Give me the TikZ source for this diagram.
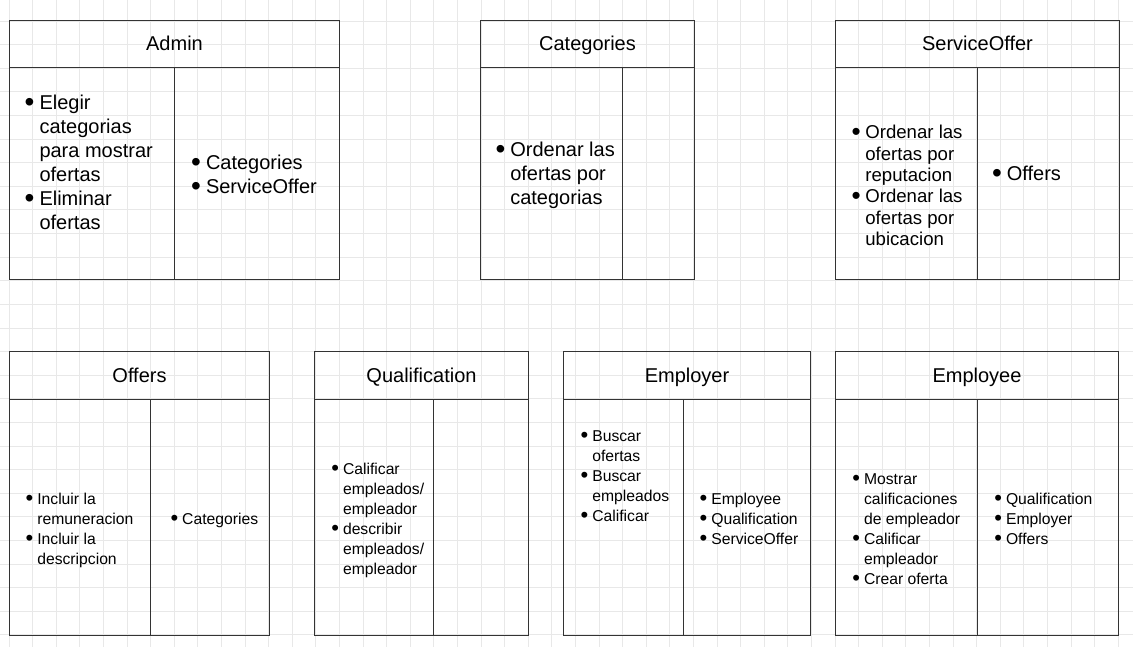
\documentclass[tikz,border=0pt]{standalone}
\usepackage{fontspec}
\setmainfont{Liberation Sans}
\newcommand{\dotmark}{\smash{\raisebox{-0.08em}{\scalebox{1.4}{\textbullet}}}}
\newcommand{\itemlist}[1]{\begin{tabular}{@{}l@{\hspace{.25em}}l@{}}#1\end{tabular}}
\tikzset{
    classtitle/.style={draw=black!80, line width=1pt, anchor=north west, inner sep=0pt,
        text height=17pt, text depth=3pt, font=\fontsize{20}{24}\selectfont},
    classcol/.style={draw=black!80, line width=1pt, anchor=north west, inner sep=0pt},
    bigtext/.style={anchor=west, inner sep=0pt, font=\fontsize{20}{24}\selectfont},
    midtext/.style={anchor=west, inner sep=0pt, font=\fontsize{18.6}{21.4}\selectfont},
    smalltext/.style={anchor=west, inner sep=0pt, font=\fontsize{15.7}{20}\selectfont},
    gridline/.style={draw=black!9, line width=0.8pt}
}
\begin{document}
\begin{tikzpicture}[x=1pt, y=-1pt]
    \useasboundingbox[fill=white] (0,0) rectangle (1133,647);

    % background grid
    \foreach \gx in {0,...,47}
        \draw[gridline] ({8.9+23.6*\gx},0) -- ({8.9+23.6*\gx},647);
    \foreach \gy in {0,...,26}
        \draw[gridline] (0,{21.1+23.6*\gy}) -- (1133,{21.1+23.6*\gy});

    % first row
    \node[classtitle, minimum width=330, minimum height=47] (adminT) at (9,20) {Admin};
    \node[classcol, minimum width=165, minimum height=212] (adminL) at (9,67) {};
    \node[classcol, minimum width=165, minimum height=212] (adminR) at (174,67) {};
    \node[bigtext] (adminOps) at (24.5,165)
        {\itemlist{\dotmark & Elegir\\ & categorias\\ & para mostrar\\ & ofertas\\
                   \dotmark & Eliminar\\ & ofertas}};
    \node[bigtext] (adminRefs) at (191,177)
        {\itemlist{\dotmark & Categories\\ \dotmark & ServiceOffer}};

    \node[classtitle, minimum width=214, minimum height=47] (catT) at (480,20) {Categories};
    \node[classcol, minimum width=142, minimum height=212] (catL) at (480,67) {};
    \node[classcol, minimum width=72, minimum height=212] (catR) at (622,67) {};
    \node[bigtext] (catOps) at (495.3,176)
        {\itemlist{\dotmark & Ordenar las\\ & ofertas por\\ & categorias}};

    \node[classtitle, minimum width=284, minimum height=47] (soT) at (835,20) {ServiceOffer};
    \node[classcol, minimum width=142, minimum height=212] (soL) at (835,67) {};
    \node[classcol, minimum width=142, minimum height=212] (soR) at (977,67) {};
    \node[midtext] (soOps) at (851.4,188)
        {\itemlist{\dotmark & Ordenar las\\ & ofertas por\\ & reputacion\\
                   \dotmark & Ordenar las\\ & ofertas por\\ & ubicacion}};
    \node[bigtext] (soRefs) at (991.8,176) {\itemlist{\dotmark & Offers}};

    % second row
    \node[classtitle, minimum width=260, minimum height=48] (offT) at (9,351) {Offers};
    \node[classcol, minimum width=141, minimum height=236] (offL) at (9,399) {};
    \node[classcol, minimum width=119, minimum height=236] (offR) at (150,399) {};
    \node[smalltext] (offOps) at (25.5,530)
        {\itemlist{\dotmark & Incluir la\\ & remuneracion\\ \dotmark & Incluir la\\ & descripcion}};
    \node[smalltext] (offRefs) at (170.4,520) {\itemlist{\dotmark & Categories}};

    \node[classtitle, minimum width=214, minimum height=48] (qualT) at (314,351) {Qualification};
    \node[classcol, minimum width=119, minimum height=236] (qualL) at (314,399) {};
    \node[classcol, minimum width=95, minimum height=236] (qualR) at (433,399) {};
    \node[smalltext] (qualOps) at (331.2,520)
        {\itemlist{\dotmark & Calificar\\ & empleados/\\ & empleador\\
                   \dotmark & describir\\ & empleados/\\ & empleador}};

    \node[classtitle, minimum width=247, minimum height=48] (emprT) at (563,351) {Employer};
    \node[classcol, minimum width=120, minimum height=236] (emprL) at (563,399) {};
    \node[classcol, minimum width=127, minimum height=236] (emprR) at (683,399) {};
    \node[smalltext] (emprOps) at (580.5,477)
        {\itemlist{\dotmark & Buscar\\ & ofertas\\ \dotmark & Buscar\\ & empleados\\
                   \dotmark & Calificar}};
    \node[smalltext] (emprRefs) at (699.5,520)
        {\itemlist{\dotmark & Employee\\ \dotmark & Qualification\\ \dotmark & ServiceOffer}};

    \node[classtitle, minimum width=283, minimum height=48] (empeT) at (835,351) {Employee};
    \node[classcol, minimum width=142, minimum height=236] (empeL) at (835,399) {};
    \node[classcol, minimum width=141, minimum height=236] (empeR) at (977,399) {};
    \node[smalltext] (empeOps) at (852.2,530)
        {\itemlist{\dotmark & Mostrar\\ & calificaciones\\ & de empleador\\
                   \dotmark & Calificar\\ & empleador\\ \dotmark & Crear oferta}};
    \node[smalltext] (empeRefs) at (994.2,520)
        {\itemlist{\dotmark & Qualification\\ \dotmark & Employer\\ \dotmark & Offers}};
\end{tikzpicture}
\end{document}
